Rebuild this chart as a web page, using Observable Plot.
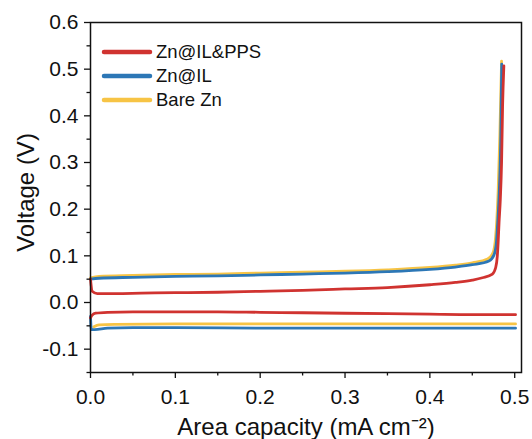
<!DOCTYPE html>
<html>
<head>
<meta charset="utf-8">
<script src="https://cdn.jsdelivr.net/npm/d3@7"></script>
<script src="https://cdn.jsdelivr.net/npm/@observablehq/plot@0.6"></script>
<style>
  html, body { margin: 0; padding: 0; background: #fff; }
  #wrap { position: relative; width: 532px; height: 439px; font-family: "Liberation Sans", Arimo, Arial, sans-serif; }
  #legend { position: absolute; left: 101px; top: 40px; font-size: 18.5px; color: #111; }
  .row { display: flex; align-items: center; height: 24px; }
  .row svg { margin-right: 3px; }
</style>
</head>
<body>
<div id="wrap"><div id="legend"></div></div>
<script>
// ---- data ----
const seriesNames = ["Zn@IL&PPS", "Zn@IL", "Bare Zn"];
const seriesColors = ["#d03330", "#2c77b6", "#f7c445"];

const xTicks = [0, 0.1, 0.2, 0.3, 0.4, 0.5];
const xMinor = [0.05, 0.15, 0.25, 0.35, 0.45];
const yTicks = [-0.1, 0, 0.1, 0.2, 0.3, 0.4, 0.5, 0.6];
const yMinor = [-0.15, -0.05, 0.05, 0.15, 0.25, 0.35, 0.45, 0.55];

// Zn@IL&PPS (red)
const redUpCap = [0, 0.002, 0.008, 0.03, 0.06, 0.1, 0.15, 0.2, 0.25, 0.3, 0.35, 0.4, 0.43, 0.45, 0.462, 0.4737, 0.4776, 0.4795, 0.4805, 0.4815, 0.483, 0.4845, 0.4857, 0.4872];
const redUpV   = [0.05, 0.024, 0.019, 0.019, 0.020, 0.021, 0.022, 0.024, 0.026, 0.029, 0.032, 0.038, 0.043, 0.048, 0.053, 0.061, 0.075, 0.1, 0.13, 0.17, 0.22, 0.3, 0.42, 0.507];
const redDownCap = [0, 0.002, 0.006, 0.02, 0.05, 0.1, 0.15, 0.2, 0.25, 0.3, 0.35, 0.4, 0.45, 0.501];
const redDownV   = [-0.033, -0.027, -0.023, -0.021, -0.020, -0.020, -0.020, -0.021, -0.022, -0.023, -0.024, -0.025, -0.026, -0.026];

// Zn@IL (blue)
const blueUpCap = [0, 0.01, 0.05, 0.1, 0.15, 0.2, 0.25, 0.3, 0.35, 0.4, 0.43, 0.45, 0.4697, 0.4756, 0.4785, 0.4796, 0.4815, 0.4835, 0.4847];
const blueUpV   = [0.050, 0.052, 0.054, 0.056, 0.057, 0.059, 0.061, 0.063, 0.066, 0.071, 0.076, 0.081, 0.089, 0.102, 0.13, 0.16, 0.225, 0.346, 0.511];
const blueDownCap = [0, 0.001, 0.005, 0.02, 0.05, 0.1, 0.2, 0.3, 0.4, 0.501];
const blueDownV   = [-0.03, -0.058, -0.058, -0.055, -0.054, -0.054, -0.055, -0.055, -0.055, -0.055];

// Bare Zn (yellow)
const yellowUpCap = [0, 0.01, 0.05, 0.1, 0.15, 0.2, 0.25, 0.3, 0.35, 0.4, 0.43, 0.45, 0.468, 0.4745, 0.4775, 0.479, 0.4805, 0.4825, 0.4845];
const yellowUpV   = [0.053, 0.056, 0.058, 0.060, 0.061, 0.063, 0.065, 0.067, 0.070, 0.075, 0.080, 0.085, 0.093, 0.107, 0.14, 0.18, 0.24, 0.36, 0.517];
const yellowDownCap = [0.004, 0.01, 0.03, 0.1, 0.2, 0.3, 0.4, 0.501];
const yellowDownV   = [-0.052, -0.048, -0.047, -0.046, -0.046, -0.046, -0.046, -0.046];

// ---- build table ----
function rows(series, seg, caps, vs) {
  return caps.map((c, i) => ({series, seg: series + seg, cap: c, v: vs[i]}));
}
const data = [
  ...rows("Bare Zn", "up", yellowUpCap, yellowUpV),
  ...rows("Bare Zn", "down", yellowDownCap, yellowDownV),
  ...rows("Zn@IL", "up", blueUpCap, blueUpV),
  ...rows("Zn@IL", "down", blueDownCap, blueDownV),
  ...rows("Zn@IL&PPS", "up", redUpCap, redUpV),
  ...rows("Zn@IL&PPS", "down", redDownCap, redDownV)
];
const fmt = d => d.toFixed(1);

const chart = Plot.plot({
  width: 532,
  height: 439,
  marginLeft: 90,
  marginRight: 11,
  marginTop: 22,
  marginBottom: 67,
  style: {fontFamily: '"Liberation Sans", Arimo, Arial, sans-serif', color: "#111", background: "#fff"},
  x: {domain: [0, 0.508]},
  y: {domain: [-0.15, 0.6]},
  color: {domain: seriesNames, range: seriesColors},
  marks: [
    Plot.line(data, {x: "cap", y: "v", z: "seg", stroke: "series", strokeWidth: 2.8, curve: "monotone-x"}),
    Plot.axisX({ticks: xTicks, tickSize: 6, tickPadding: 11, tickFormat: fmt, fontSize: 21, label: null, strokeWidth: 1.3}),
    Plot.axisX({ticks: xMinor, tickSize: 3.5, tickFormat: () => "", label: null, strokeWidth: 1.3}),
    Plot.axisY({ticks: yTicks, tickSize: 6, tickPadding: 6, tickFormat: fmt, fontSize: 21, label: null, strokeWidth: 1.3}),
    Plot.axisY({ticks: yMinor, tickSize: 3.5, tickFormat: () => "", label: null, strokeWidth: 1.3}),
    Plot.frame({stroke: "#111", strokeWidth: 1.5}),
    Plot.text(["Area capacity (mA cm\u207B\u00B2)"], {frameAnchor: "bottom", dy: 55, fontSize: 24, lineAnchor: "middle", textAnchor: "middle", fill: "#111"}),
    Plot.text(["Voltage (V)"], {frameAnchor: "left", dx: -64, dy: -5, rotate: -90, fontSize: 24, lineAnchor: "middle", textAnchor: "middle", fill: "#111"})
  ]
});
const wrap = document.getElementById("wrap");
wrap.insertBefore(chart, wrap.firstChild);

const legend = document.getElementById("legend");
seriesNames.forEach((name, i) => {
  const row = document.createElement("div");
  row.className = "row";
  row.innerHTML = `<svg width="52" height="10"><line x1="3" y1="5" x2="49" y2="5" stroke="${seriesColors[i]}" stroke-width="4.5" stroke-linecap="round"/></svg><span>${name.replace("&", "&amp;")}</span>`;
  legend.appendChild(row);
});
</script>
</body>
</html>
